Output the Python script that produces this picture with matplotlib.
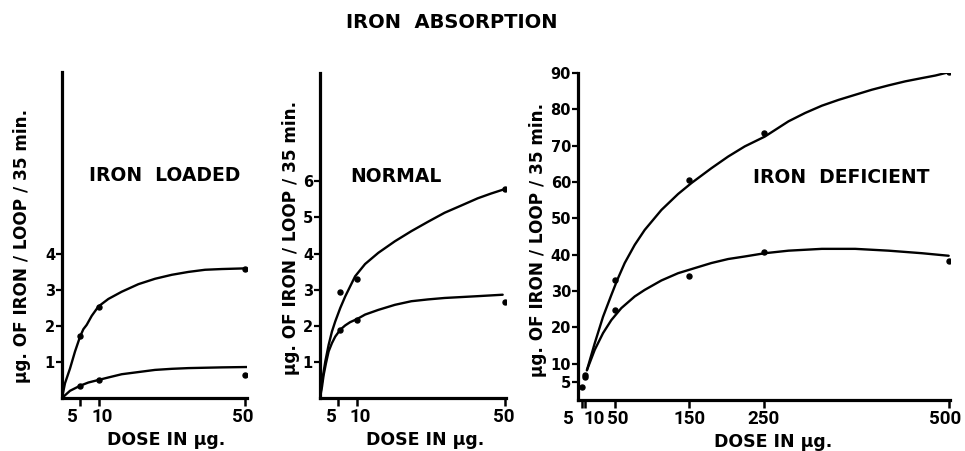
import matplotlib.pyplot as plt
from matplotlib.transforms import ScaledTranslation

# measured points (dose in ug, ug of iron / loop / 35 min)
loaded_dose = [5, 10, 50]
loaded_upper = [1.72, 2.54, 3.58]
loaded_lower = [0.34, 0.50, 0.65]

normal_dose = [5.5, 10, 50]
normal_upper = [2.93, 3.30, 5.78]
normal_lower = [1.89, 2.15, 2.65]

deficient_dose = [5, 10, 10, 50, 150, 250, 500]
deficient_upper = [3.7, 6.9, 6.2, 33.1, 60.6, 73.5, 90.2]
deficient_lower_dose = [50, 150, 250, 500]
deficient_lower = [24.8, 34.0, 40.6, 38.3]

# hand-drawn curves
loaded_cx = [0, 0.82, 2.19, 3.55, 4.92, 5.83, 6.74, 8.11, 9.93, 12.66, 16.3,
             20.85, 25.4, 29.96, 34.5, 39.07, 43.6, 50.5]
loaded_cu = [0, 0.41, 0.82, 1.29, 1.70, 1.91, 2.03, 2.28, 2.54, 2.75, 2.95,
             3.16, 3.31, 3.42, 3.50, 3.56, 3.58, 3.60]
loaded_clx = [0, 2.19, 4.92, 7.2, 9.93, 12.66, 16.3, 20.85, 25.4, 29.96, 34.5,
              43.6, 50.5]
loaded_cl = [0, 0.20, 0.34, 0.43, 0.50, 0.57, 0.66, 0.72, 0.78, 0.81, 0.83,
             0.85, 0.86]

normal_cx = [0, 0.54, 1.43, 2.33, 3.23, 4.12, 5.47, 6.81, 8.15, 9.5, 12.19,
             15.77, 20.25, 24.7, 29.2, 33.7, 38.2, 42.65, 46.2, 49.8]
normal_cu = [0, 0.45, 1.01, 1.47, 1.84, 2.12, 2.49, 2.81, 3.09, 3.37, 3.71,
             4.02, 4.34, 4.62, 4.88, 5.13, 5.33, 5.53, 5.66, 5.78]
normal_clx = [0, 0.54, 0.99, 1.61, 2.33, 3.23, 4.12, 5.47, 6.81, 8.15, 10.1,
              12.19, 15.77, 20.25, 24.7, 29.2, 33.7, 42.65, 49.4]
normal_cl = [0, 0.31, 0.64, 0.96, 1.29, 1.52, 1.70, 1.89, 2.01, 2.10, 2.19,
             2.31, 2.44, 2.58, 2.68, 2.73, 2.77, 2.82, 2.86]

def_cx = [12, 22.5, 33.7, 44.9, 53.0, 62.9, 76.4, 89.8, 112.3, 134.8, 152.7,
          179.7, 202.2, 224.6, 251.6, 283.5, 305.9, 328.4, 350.9, 373.3,
          395.8, 418.3, 440.7, 463.2, 481.2, 499.2]
def_cu = [8.2, 15.6, 22.9, 28.9, 33.1, 37.7, 42.7, 46.8, 52.3, 56.7, 59.7,
          63.8, 67.0, 69.8, 72.5, 76.7, 79.0, 81.0, 82.6, 84.0, 85.4, 86.6,
          87.7, 88.6, 89.3, 90.2]
def_clx = [12, 22.5, 33.7, 44.9, 58.4, 76.4, 89.8, 112.3, 134.8, 157.2,
           179.7, 202.2, 224.6, 251.6, 283.5, 328.4, 373.3, 418.3, 463.2,
           499.2]
def_cl = [8.2, 13.8, 18.4, 22.0, 25.3, 28.5, 30.3, 32.9, 34.9, 36.3, 37.7,
          38.8, 39.5, 40.4, 41.1, 41.6, 41.6, 41.1, 40.4, 39.7]

W, H = 965, 451
plt.rcParams['font.family'] = 'DejaVu Sans'
plt.rcParams['font.weight'] = 'bold'
NARROW = ['Roboto', 'DejaVu Sans']

fig = plt.figure(figsize=(W / 100, H / 100), dpi=100)


def px_axes(x0, y0, x1, y1):
    # axes from pixel box (top-left origin)
    return fig.add_axes([x0 / W, 1 - y1 / H, (x1 - x0) / W, (y1 - y0) / H])


def style(ax, xticks, xlabels, yticks, ylabels, shifts):
    for s in ['top', 'right']:
        ax.spines[s].set_visible(False)
    for s in ['left', 'bottom']:
        ax.spines[s].set_linewidth(2.3)
    ax.set_xticks(xticks)
    ax.set_xticklabels(xlabels, fontsize=13.5, fontweight='bold',
                       family=NARROW)
    ax.set_yticks(yticks)
    ax.set_yticklabels(ylabels, fontsize=10.5, fontweight='bold')
    ax.tick_params(axis='x', direction='out', length=5.5, width=1.8, pad=2)
    ax.tick_params(axis='y', direction='out', length=4, width=1.6, pad=1)
    # nudge the crowded dose labels sideways, like the hand lettering
    for lab, dx in zip(ax.get_xticklabels(), shifts):
        lab.set_transform(lab.get_transform() +
                          ScaledTranslation(dx / 100, 0, fig.dpi_scale_trans))


def draw(ax, cx, cu, clx, cl, px, pu, plx, pl):
    ax.plot(cx, cu, color='black', lw=1.7, solid_capstyle='round')
    ax.plot(clx, cl, color='black', lw=1.7, solid_capstyle='round')
    ax.plot(px, pu, 'o', color='black', ms=3.6)
    ax.plot(plx, pl, 'o', color='black', ms=3.6)


ylabel = 'µg. OF IRON / LOOP / 35 min.'
xlabel = 'DOSE IN µg.'

# panel 1: iron loaded
ax1 = px_axes(62, 72, 247, 398)
draw(ax1, loaded_cx, loaded_cu, loaded_clx, loaded_cl,
     loaded_dose, loaded_upper, loaded_dose, loaded_lower)
ax1.set_xlim(0, 50.5)
ax1.set_ylim(0, 9.05)
style(ax1, [5, 10, 50], ['5', '10', '50'], [1, 2, 3, 4],
      ['1', '2', '3', '4'], [-8, 4, -2])
ax1.text(0.557, 0.684, 'IRON  LOADED', transform=ax1.transAxes,
         ha='center', va='center', fontsize=13.5)

# panel 2: normal
ax2 = px_axes(320, 73, 506, 398)
draw(ax2, normal_cx, normal_cu, normal_clx, normal_cl,
     normal_dose, normal_upper, normal_dose, normal_lower)
ax2.set_xlim(0, 50.3)
ax2.set_ylim(0, 9.0)
style(ax2, [5, 10, 50], ['5', '10', '50'], [1, 2, 3, 4, 5, 6],
      ['1', '2', '3', '4', '5', '6'], [-7, 3, -1])
ax2.text(0.41, 0.68, 'NORMAL', transform=ax2.transAxes,
         ha='center', va='center', fontsize=13.5)

# panel 3: iron deficient
ax3 = px_axes(578, 73, 950, 400)
draw(ax3, def_cx, def_cu, def_clx, def_cl,
     deficient_dose, deficient_upper, deficient_lower_dose, deficient_lower)
ax3.set_xlim(0, 501)
ax3.set_ylim(0, 90)
style(ax3, [5, 10, 50, 150, 250, 500],
      ['5', '10', '50', '150', '250', '500'],
      [5, 10, 20, 30, 40, 50, 60, 70, 80, 90],
      ['5', '10', '20', '30', '40', '50', '60', '70', '80', '90'],
      [-13, 9, 3, 0, 0, -4])
ax3.text(0.707, 0.679, 'IRON  DEFICIENT', transform=ax3.transAxes,
         ha='center', va='center', fontsize=13.5)

# axis titles at pixel spots
for x, y in [(22, 246), (291, 238), (538, 240)]:
    fig.text(x / W, 1 - y / H, ylabel, rotation=90, ha='center',
             va='center', fontsize=12.2)
for x, y in [(166, 445), (425, 445), (773, 447)]:
    fig.text(x / W, 1 - y / H, xlabel, ha='center', va='baseline',
             fontsize=12.5)

fig.text(452 / W, 1 - 22 / H, 'IRON  ABSORPTION', ha='center', va='center',
         fontsize=14)

fig.savefig('out.png', dpi=100)
